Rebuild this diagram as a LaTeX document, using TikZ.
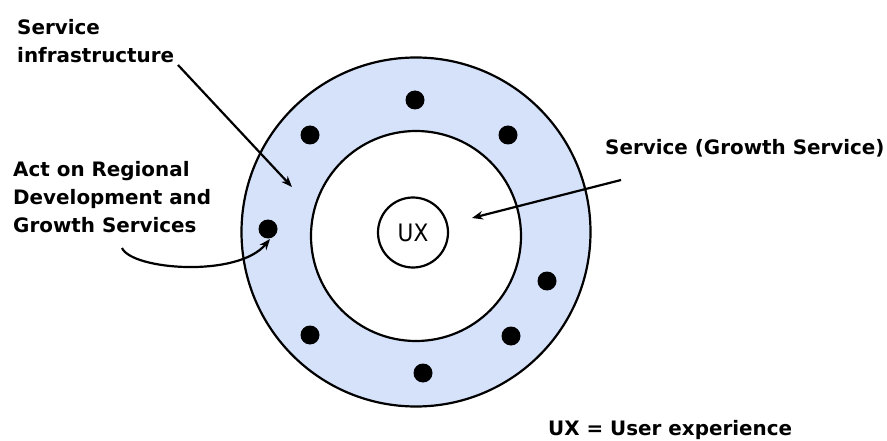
\documentclass[tikz,border=0pt]{standalone}
\usepackage{fontspec}
\setmainfont{DejaVu Sans}
\newfontfamily\narrowsans{DejaVu Sans Condensed}
\usetikzlibrary{arrows.meta}
\definecolor{ringblue}{RGB}{213,226,250}
\tikzset{
  ring/.style={circle, draw=black, line width=2.2pt, inner sep=0pt},
  dotmark/.style={circle, fill=black, minimum size=19pt, inner sep=0pt},
  label/.style={inner sep=0pt, anchor=base west, align=left,
    font=\bfseries\fontsize{19.9}{28}\selectfont},
  pointer/.style={line width=2.2pt, -{Stealth[length=11pt,width=8.5pt]}}
}
\begin{document}
\begin{tikzpicture}[x=1pt, y=-1pt]
  \useasboundingbox (0,0) rectangle (887,441);

  % service infrastructure ring, service area and the user experience core
  \node[ring, fill=ringblue, minimum size=349pt] (outer) at (416,232) {};
  \node[ring, fill=white, minimum size=210pt] (inner) at (416,236) {};
  \node[ring, fill=white, minimum size=70pt,
        font=\narrowsans\fontsize{24}{28}\selectfont] (ux) at (413,232.5) {UX};

  % actors placed on the infrastructure ring
  \node[dotmark] (d1) at (415,100) {};
  \node[dotmark] (d2) at (310,135) {};
  \node[dotmark] (d3) at (508,135) {};
  \node[dotmark] (d4) at (268,229) {};
  \node[dotmark] (d5) at (547,281) {};
  \node[dotmark] (d6) at (310,335) {};
  \node[dotmark] (d7) at (511,336) {};
  \node[dotmark] (d8) at (423,373) {};

  % labels (anchored at the baseline of their last line)
  \node[label] (infra) at (17,63) {Service\\infrastructure};
  \node[label] (act) at (13,233) {Act on Regional\\Development and\\Growth Services};
  \node[label] (service) at (605,155) {Service (Growth Service)};
  \node[label] (legend) at (548,435) {UX = User experience};

  % arrow end points
  \coordinate (infraStart) at (178,65);
  \coordinate (infraTip) at (292,187);
  \coordinate (serviceStart) at (621,180);
  \coordinate (serviceTip) at (472,218);
  \coordinate (actStart) at (122,248);
  \coordinate (actTip) at (270,239);

  \draw[pointer] (infraStart) -- (infraTip);
  \draw[pointer] (serviceStart) -- (serviceTip);
  \draw[pointer] (actStart) .. controls (132,270) and (238,278) .. (actTip);
\end{tikzpicture}
\end{document}
